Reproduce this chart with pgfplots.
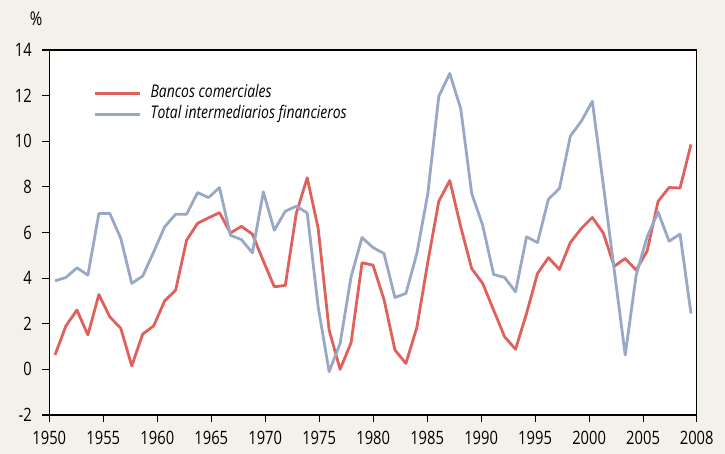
\documentclass[border=0pt]{standalone}
\usepackage{fontspec}
\setmainfont{Open Sans}[FakeStretch=0.8]
\usepackage{pgfplots}
\pgfplotsset{compat=1.18}
\usepackage{pgfplotstable}
\usetikzlibrary{backgrounds}
\definecolor{bgbeige}{HTML}{F4F1EA}
\definecolor{redline}{HTML}{E0605C}
\definecolor{blueline}{HTML}{98A8C6}

\pgfplotstableread{
year bancos total
1950 0.63 3.88
1951 1.91 4.03
1952 2.60 4.45
1953 1.51 4.13
1954 3.28 6.83
1955 2.30 6.83
1956 1.80 5.74
1957 0.15 3.77
1958 1.55 4.09
1959 1.91 5.15
1960 3.00 6.25
1961 3.47 6.80
1962 5.66 6.80
1963 6.40 7.75
1964 6.64 7.53
1965 6.87 7.97
1966 5.98 5.88
1967 6.27 5.69
1968 5.93 5.11
1969 4.75 7.78
1970 3.62 6.10
1971 3.68 6.93
1972 6.83 7.15
1973 8.40 6.86
1974 6.18 2.74
1975 1.72 -0.10
1976 0.00 1.14
1977 1.17 4.06
1978 4.67 5.78
1979 4.57 5.34
1980 3.07 5.08
1981 0.85 3.15
1982 0.26 3.33
1983 1.84 5.08
1984 4.71 7.71
1985 7.37 11.97
1986 8.28 12.97
1987 6.25 11.43
1988 4.42 7.71
1989 3.77 6.32
1990 2.60 4.16
1991 1.43 4.03
1992 0.88 3.40
1993 2.45 5.81
1994 4.20 5.56
1995 4.90 7.46
1996 4.38 7.93
1997 5.56 10.23
1998 6.18 10.88
1999 6.66 11.75
2000 5.98 8.10
2001 4.52 4.35
2002 4.86 0.63
2003 4.35 4.13
2004 5.19 5.81
2005 7.37 6.90
2006 7.97 5.62
2007 7.95 5.93
2008 9.86 2.45
}\datatable

\begin{document}
\begin{tikzpicture}
\begin{axis}[
  name=ax,
  scale only axis,
  width=647.4bp, height=365bp,
  xmin=1949.48, xmax=2008.52,
  ymin=-2, ymax=14,
  axis background/.style={fill=white},
  axis line style={black, line width=1.1bp},
  xtick={1949.48,1954.40,1959.33,1964.25,1969.17,1974.09,1979.02,1983.94,1988.86,1993.78,1998.71,2003.63,2008.52},
  xticklabels={1950,1955,1960,1965,1970,1975,1980,1985,1990,1995,2000,2005,2008},
  ytick={-2,0,2,4,6,8,10,12,14},
  yticklabels={-2,0,2,4,6,8,10,12,14},
  tick align=outside,
  major tick length=7bp,
  tick style={black, line width=1.1bp},
  xtick pos=bottom, ytick pos=left,
  ticklabel style={font=\fontsize{18.5}{20}\selectfont},
  yticklabel style={xshift=-7bp},
  xticklabel style={yshift=-6bp},
  clip=false,
  legend cell align=left,
  legend style={draw=none, fill=none, at={(rel axis cs:0.063,0.915)}, anchor=north west,
    font=\fontsize{17.5}{19}\selectfont\itshape, row sep=0pt,
    nodes={text height=12bp, text depth=4bp, inner sep=2.5bp}},
  legend image code/.code={\draw[#1] (0bp,0bp) -- (45bp,0bp); \path (52bp,0bp);},
]
\addplot[redline, line width=2.8bp, line join=round] table[x=year, y=bancos] {\datatable};
\addlegendentry{Bancos comerciales}
\addplot[blueline, line width=2.8bp, line join=round] table[x=year, y=total] {\datatable};
\addlegendentry{Total intermediarios financieros}
\node[font=\fontsize{19}{20}\selectfont] at (rel axis cs:-0.0205,1.0863) {\%};
\end{axis}
\begin{scope}[on background layer]
\fill[bgbeige] ([shift={(-49.3bp,-39bp)}]ax.south west) rectangle ([shift={(28.3bp,50bp)}]ax.north east);
\end{scope}
\end{tikzpicture}
\end{document}
